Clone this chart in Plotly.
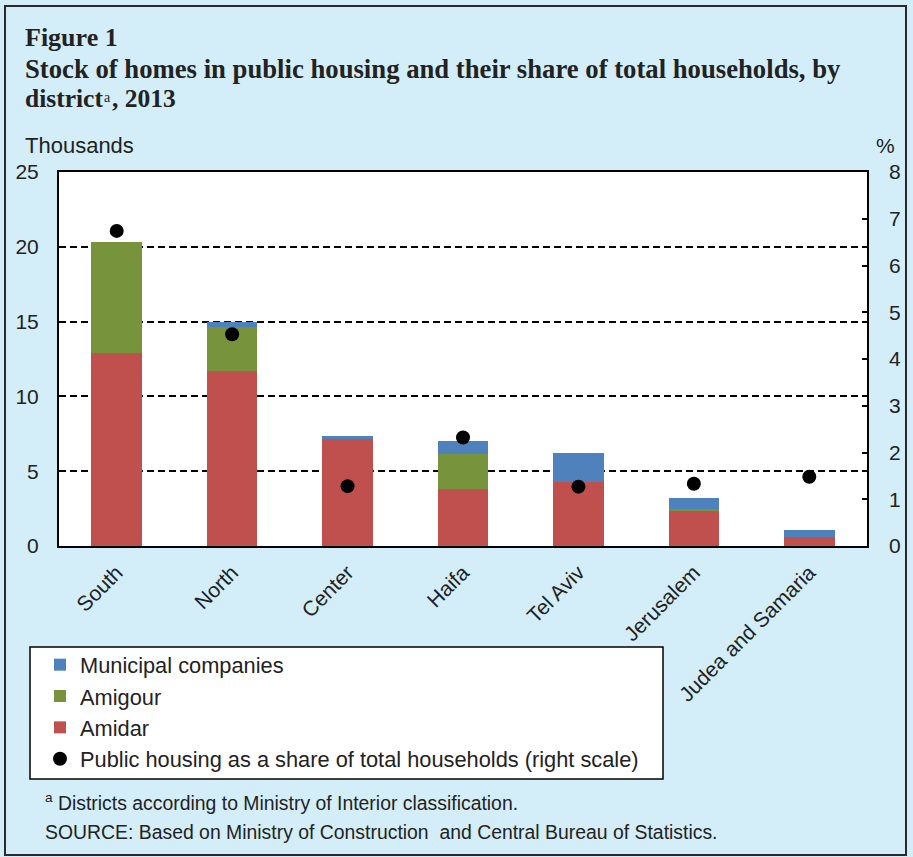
import plotly.graph_objects as go

districts = ["South", "North", "Center", "Haifa", "Tel Aviv", "Jerusalem", "Judea and Samaria"]
amidar = [12.9, 11.7, 7.2, 3.8, 4.3, 2.35, 0.6]
amigour = [7.4, 2.95, 0.0, 2.35, 0.0, 0.15, 0.0]
municipal = [0.0, 0.3, 0.13, 0.85, 1.95, 0.7, 0.45]
share_pct = [6.74, 4.53, 1.28, 2.32, 1.27, 1.33, 1.48]

W, H = 913, 857
L, R, T, B = 59, 867, 172, 546


def xp(px):
    return (px - L) / (R - L)


def yp(py):
    return (B - py) / (B - T)


BG = "#D4EEF9"
RED = "#C0504D"
GREEN = "#77933C"
BLUE = "#4F81BD"
TXT = "#222222"
SANS = "Liberation Sans, Arial, sans-serif"
SERIF = "Liberation Serif, Times New Roman, serif"

fig = go.Figure()
fig.add_trace(go.Bar(x=districts, y=amidar, name="Amidar", marker=dict(color=RED, line=dict(width=0)),
                     legendrank=3, legendgroup="a"))
fig.add_trace(go.Bar(x=districts, y=amigour, name="Amigour", marker=dict(color=GREEN, line=dict(width=0)),
                     legendrank=2, legendgroup="b"))
fig.add_trace(go.Bar(x=districts, y=municipal, name="Municipal companies", marker=dict(color=BLUE, line=dict(width=0)),
                     legendrank=1, legendgroup="c"))
fig.add_trace(go.Scatter(x=districts, y=share_pct, name="Public housing as a share of total households (right scale)",
                         mode="markers", marker=dict(color="black", size=14), yaxis="y2",
                         legendrank=4, legendgroup="d"))

shapes = [
    dict(type="rect", xref="paper", yref="paper", x0=xp(5), x1=xp(906), y0=yp(6), y1=yp(855),
         line=dict(color="#2a2a2a", width=2), fillcolor="rgba(0,0,0,0)", layer="below"),
    dict(type="rect", xref="paper", yref="paper", x0=xp(30), x1=xp(663), y0=yp(647), y1=yp(779),
         line=dict(color="black", width=1.5), fillcolor="white", layer="above"),
]

annotations = [
    dict(text="<b>Figure 1</b>", x=xp(23), y=yp(38), xanchor="left", yanchor="middle",
         font=dict(family=SERIF, size=26, color=TXT)),
    dict(text="<b>Stock of homes in public housing and their share of total households, by</b>",
         x=xp(23), y=yp(69), xanchor="left", yanchor="middle", font=dict(family=SERIF, size=26.7, color=TXT)),
    dict(text="<b>district</b>",
         x=xp(23), y=yp(98), xanchor="left", yanchor="middle", font=dict(family=SERIF, size=25.5, color=TXT)),
    dict(text="a", x=xp(102), y=yp(97), xanchor="left", yanchor="middle",
         font=dict(family=SERIF, size=14, color=TXT)),
    dict(text="<b>, 2013</b>",
         x=xp(110), y=yp(98), xanchor="left", yanchor="middle", font=dict(family=SERIF, size=25.5, color=TXT)),
    dict(text="Thousands", x=xp(23), y=yp(146), xanchor="left", yanchor="middle",
         font=dict(family=SANS, size=22, color=TXT)),
    dict(text="%", x=xp(885), y=yp(146), xanchor="center", yanchor="middle",
         font=dict(family=SANS, size=21, color=TXT)),
    dict(text="<sup>a</sup> Districts according to Ministry of Interior classification.", x=xp(43), y=yp(802),
         xanchor="left", yanchor="middle", font=dict(family=SANS, size=19.4, color=TXT)),
    dict(text="SOURCE: Based on Ministry of Construction  and Central Bureau of Statistics.", x=xp(43), y=yp(832),
         xanchor="left", yanchor="middle", font=dict(family=SANS, size=19.4, color=TXT)),
]
for a in annotations:
    a.update(xref="paper", yref="paper", showarrow=False)

fig.update_layout(
    width=W, height=H,
    margin=dict(l=L, r=W - R, t=T, b=H - B, pad=0),
    paper_bgcolor=BG, plot_bgcolor="white",
    barmode="stack", bargap=0.5625,
    showlegend=True,
    legend=dict(x=xp(40), y=yp(644), xanchor="left", yanchor="top",
                bgcolor="rgba(0,0,0,0)", borderwidth=0, traceorder="normal",
                font=dict(family=SANS, size=21.8, color=TXT), tracegroupgap=9.6, itemwidth=30),
    xaxis=dict(showline=True, linecolor="black", linewidth=2, mirror=True, ticks="",
               tickangle=-45, tickfont=dict(family=SANS, size=21, color=TXT), showgrid=False,
               ticklabelstandoff=4),
    yaxis=dict(range=[0, 25], tickvals=[0, 5, 10, 15, 20, 25], showline=True, linecolor="black", linewidth=2,
               mirror=True, ticks="", showgrid=True, gridcolor="black", gridwidth=1.5, griddash="7px,4px",
               tickfont=dict(family=SANS, size=21, color=TXT), ticklabelstandoff=14, zeroline=False),
    yaxis2=dict(range=[0, 8], tickvals=list(range(0, 9)), overlaying="y", side="right", showgrid=False,
                ticks="inside", ticklen=5, tickcolor="black", tickwidth=1.5, zeroline=False,
                tickfont=dict(family=SANS, size=21, color=TXT), ticklabelstandoff=21),
    shapes=shapes, annotations=annotations,
)

fig.write_html("out.html", config={"displayModeBar": False},
               post_script="document.body.style.margin='0';")
